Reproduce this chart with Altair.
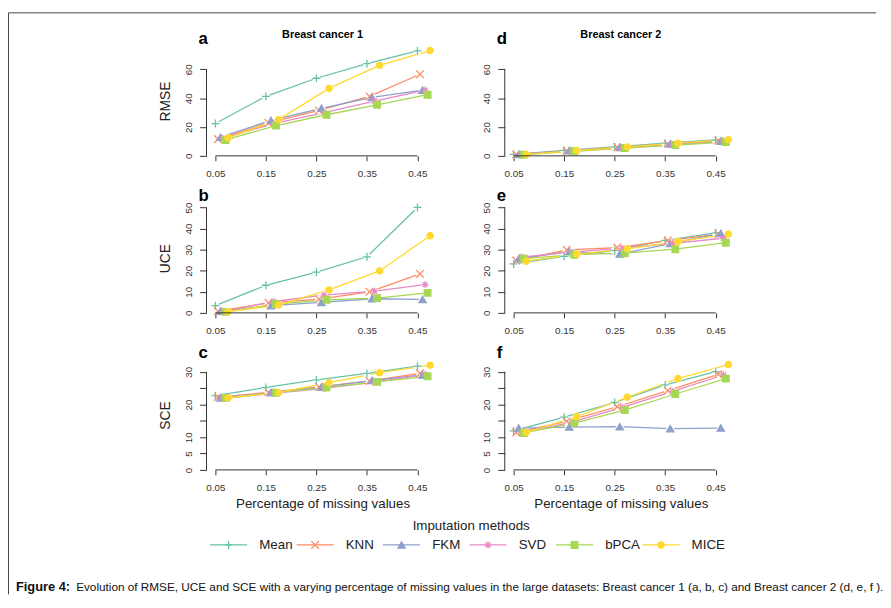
import altair as alt
import pandas as pd

# ---------------- data ----------------
pct = [0.05, 0.15, 0.25, 0.35, 0.45]
methods = ["Mean", "KNN", "FKM", "SVD", "bPCA", "MICE"]
offsets = [0.0, 0.005, 0.01, 0.015, 0.02, 0.025]   # horizontal dodge per method

rmse_bc1 = {
    "Mean": [22.4, 41.3, 53.8, 63.9, 72.8],
    "KNN":  [11.6, 22.8, 31.5, 41.2, 56.6],
    "FKM":  [13.0, 24.6, 33.0, 40.6, 45.6],
    "SVD":  [12.1, 22.4, 30.0, 38.0, 45.6],
    "bPCA": [11.0, 21.0, 28.5, 35.4, 42.4],
    "MICE": [12.5, 25.1, 46.8, 62.7, 73.0],
}
rmse_bc2 = {
    "Mean": [1.0, 3.8, 6.2, 8.8, 11.0],
    "KNN":  [1.0, 3.5, 6.0, 8.3, 10.5],
    "FKM":  [1.0, 3.5, 5.8, 8.2, 10.2],
    "SVD":  [0.9, 3.3, 5.5, 7.8, 10.3],
    "bPCA": [0.8, 3.2, 5.4, 7.5, 9.6],
    "MICE": [1.0, 3.7, 6.2, 8.8, 11.2],
}
uce_bc1 = {
    "Mean": [3.4, 13.1, 19.3, 26.6, 50.0],
    "KNN":  [0.8, 4.8, 6.5, 10.0, 18.5],
    "FKM":  [0.8, 3.4, 5.0, 6.7, 6.4],
    "SVD":  [0.6, 5.4, 8.4, 10.3, 13.4],
    "bPCA": [0.5, 4.2, 6.2, 7.0, 9.5],
    "MICE": [0.6, 3.7, 10.9, 19.9, 36.6],
}
uce_bc2 = {
    "Mean": [23.2, 26.8, 29.6, 34.4, 38.0],
    "KNN":  [24.8, 29.9, 31.0, 34.3, 37.4],
    "FKM":  [25.7, 29.1, 27.9, 32.9, 37.7],
    "SVD":  [26.5, 28.8, 30.7, 33.0, 35.4],
    "bPCA": [25.7, 27.6, 28.3, 30.2, 33.3],
    "MICE": [24.5, 27.9, 30.4, 33.8, 37.4],
}
sce_bc1 = {
    "Mean": [22.7, 25.2, 27.5, 29.5, 31.7],
    "KNN":  [22.2, 23.7, 25.4, 27.2, 29.5],
    "FKM":  [22.0, 23.6, 25.3, 27.3, 29.0],
    "SVD":  [21.9, 23.4, 24.9, 26.8, 29.2],
    "bPCA": [22.0, 23.6, 25.2, 26.9, 28.6],
    "MICE": [22.0, 23.6, 26.7, 29.7, 32.0],
}
sce_bc2 = {
    "Mean": [11.9, 16.1, 20.6, 26.0, 30.0],
    "KNN":  [11.4, 14.9, 19.3, 24.2, 29.2],
    "FKM":  [12.8, 13.1, 13.2, 12.6, 12.8],
    "SVD":  [11.3, 14.6, 19.1, 24.0, 29.0],
    "bPCA": [11.3, 14.3, 18.3, 23.2, 27.9],
    "MICE": [11.5, 16.3, 22.2, 27.9, 32.2],
}

rmse_ticks = [0, 20, 40, 60]
uce_ticks = [0, 10, 20, 30, 40, 50]
sce_ticks = [0, 5, 10, 15, 20, 25, 30]

# ---------------- styles ----------------
colors = ["#66C2A5", "#FC8D62", "#8DA0CB", "#E78AC3", "#A6D854", "#FFD92F"]
shapes = [
    "M-1,0L1,0M0,-1L0,1",
    "M-1,-1L1,1M-1,1L1,-1",
    "triangle-up",
    "M-1,0L1,0M0,-1L0,1M-0.72,-0.72L0.72,0.72M-0.72,0.72L0.72,-0.72",
    "square",
    "circle",
]
sizes = [64, 40, 49, 64, 30, 30]
FONT = "Liberation Sans"
AX = "#333333"
W, H = 235, 111
XDOM = [0.0324, 0.4918]

color_scale = alt.Scale(domain=methods, range=colors)
shape_scale = alt.Scale(domain=methods, range=shapes)
size_scale = alt.Scale(domain=methods, range=sizes)


def to_frame(d):
    rows = []
    for i, m in enumerate(methods):
        for p, v in zip(pct, d[m]):
            rows.append({"method": m, "order": i, "pct": p,
                         "x": p + offsets[i], "value": v})
    return pd.DataFrame(rows)


def panel(data, ydom, yticks, letter, ytitle=None, coltitle=None,
          xtitle=None, frame=False):
    df = to_frame(data)
    xaxis = dict(values=pct, format=".2f", domain=False, grid=False,
                 tickSize=5, tickColor=AX, labelPadding=8, labelFontSize=10,
                 labelColor=AX, labelFont=FONT, labelOverlap=False,
                 title=None)
    if xtitle:
        xaxis.update(title=xtitle, titleFont=FONT, titleFontSize=13.5,
                     titleFontWeight="normal", titleColor="#222222",
                     titleY=34, titleBaseline="middle")
    yaxis = dict(values=yticks, domain=False, grid=False, tickSize=7,
                 tickColor=AX, labelAngle=270, labelAlign="center",
                 labelBaseline="bottom", labelPadding=6, labelFontSize=10,
                 labelColor=AX, labelFont=FONT, labelOverlap=False,
                 title=None)
    if yticks == sce_ticks:
        yaxis["labelExpr"] = "(datum.value == 15 || datum.value == 25) ? '' : datum.label"
    if ytitle:
        yaxis.update(title=ytitle, titleFont=FONT, titleFontSize=14,
                     titleFontWeight="normal", titleColor="#222222",
                     titleAngle=270, titleX=-41, titleY=H / 2,
                     titleBaseline="middle", titleAlign="center")

    xa = alt.Axis(**xaxis)
    ya = alt.Axis(**yaxis)
    xs = alt.Scale(domain=XDOM, nice=False, zero=False)
    ys = alt.Scale(domain=ydom, nice=False, zero=False)
    x = alt.X("x:Q", scale=xs, axis=xa)
    y = alt.Y("value:Q", scale=ys, axis=ya)
    col = alt.Color("method:N", scale=color_scale, legend=None)

    base = alt.Chart(df)
    lines = base.mark_line(strokeWidth=1.3).encode(
        x=x, y=y, color=col, detail="method:N", order="pct:Q")
    # white halo around each point: the line gaps of a type="b" plot
    halos = base.mark_point(filled=True, opacity=1, color="#ffffff",
                            shape="circle", size=60).encode(x=x, y=y)
    pts = base.mark_point(filled=False, opacity=1, strokeWidth=1.3).encode(
        x=x, y=y, color=col,
        fill=alt.Fill("method:N", scale=color_scale, legend=None),
        shape=alt.Shape("method:N", scale=shape_scale, legend=None),
        size=alt.Size("method:N", scale=size_scale, legend=None))

    axdf = pd.DataFrame({"value": [yticks[0]], "value2": [yticks[-1]],
                         "x": [pct[0]], "x2": [pct[-1]]})
    yline = alt.Chart(axdf).mark_rule(color=AX, strokeWidth=1).encode(
        x=alt.value(0), y=y, y2="value2:Q")
    xline = alt.Chart(axdf).mark_rule(color=AX, strokeWidth=1).encode(
        y=alt.value(H), x=x, x2="x2:Q")

    lab = alt.Chart(pd.DataFrame({"t": [letter]})).mark_text(
        font=FONT, fontSize=17, fontWeight="bold", align="left",
        baseline="alphabetic", color="#000000").encode(
        text="t:N", x=alt.value(-8), y=alt.value(-2.5))

    layers = [lines, halos, pts, yline, xline, lab]
    if coltitle:
        ct = alt.Chart(pd.DataFrame({"t": [coltitle]})).mark_text(
            font=FONT, fontSize=11, fontWeight="bold", align="center",
            baseline="middle", color="#000000").encode(
            text="t:N", x=alt.value(W / 2), y=alt.value(-11))
        layers.append(ct)
    if frame:
        one = pd.DataFrame({"k": [0]})
        fv = alt.Chart(one).mark_rule(color="#444444", strokeWidth=1).encode(
            x=alt.value(-200.5), y=alt.value(-33.8), y2=alt.value(555))
        fh = alt.Chart(one).mark_rule(color="#444444", strokeWidth=1).encode(
            y=alt.value(-33.8), x=alt.value(-200.5), x2=alt.value(678))
        layers += [fv, fh]
    return alt.layer(*layers).properties(width=W, height=H)


pa = panel(rmse_bc1, [0, 76], rmse_ticks, "a", ytitle="RMSE",
           coltitle="Breast cancer 1", frame=True)
pdd = panel(rmse_bc2, [0, 76], rmse_ticks, "d", coltitle="Breast cancer 2")
pb = panel(uce_bc1, [0, 52], uce_ticks, "b", ytitle="UCE")
pe = panel(uce_bc2, [0, 52], uce_ticks, "e")
pc = panel(sce_bc1, [0, 33.5], sce_ticks, "c", ytitle="SCE",
           xtitle="Percentage of missing values")
pf = panel(sce_bc2, [0, 33.5], sce_ticks, "f",
           xtitle="Percentage of missing values")

# ---------------- legend + caption ----------------
leg_df = pd.DataFrame({"method": methods, "order": list(range(len(methods)))})
lx = alt.X("order:Q", scale=alt.Scale(domain=[0, 5], range=[22.4, 460.2]),
           axis=None)
leg_y = 28
leg_base = alt.Chart(leg_df)
leg_lines = leg_base.mark_rule(strokeWidth=1.3, xOffset=-18.8,
                               x2Offset=18.8).encode(
    x=lx, x2="order:Q", y=alt.value(leg_y),
    color=alt.Color("method:N", scale=color_scale, legend=None))
leg_pts = leg_base.mark_point(filled=False, opacity=1, strokeWidth=1.3).encode(
    x=lx, y=alt.value(leg_y),
    color=alt.Color("method:N", scale=color_scale, legend=None),
    fill=alt.Fill("method:N", scale=color_scale, legend=None),
    shape=alt.Shape("method:N", scale=shape_scale, legend=None),
    size=alt.Size("method:N", scale=size_scale, legend=None))
leg_txt = leg_base.mark_text(font=FONT, fontSize=13.5, align="left",
                             baseline="middle", dx=31, color="#222222").encode(
    x=lx, y=alt.value(leg_y), text="method:N")
leg_title = alt.Chart(pd.DataFrame({"t": ["Imputation methods"]})).mark_text(
    font=FONT, fontSize=13.5, align="center", baseline="middle",
    color="#222222").encode(text="t:N", x=alt.value(268), y=alt.value(9.3))
cap1 = alt.Chart(pd.DataFrame({"t": ["Figure 4:"]})).mark_text(
    font=FONT, fontSize=13, fontWeight="bold", align="left",
    baseline="middle", color="#111111").encode(
    text="t:N", x=alt.value(-193), y=alt.value(71))
cap2 = alt.Chart(pd.DataFrame({"t": [
    "Evolution of RMSE, UCE and SCE with a varying percentage of missing values "
    "in the large datasets: Breast cancer 1 (a, b, c) and Breast cancer 2 (d, e, f )."]})
).mark_text(font=FONT, fontSize=11.9, align="left", baseline="middle",
            color="#111111").encode(
    text="t:N", x=alt.value(-132), y=alt.value(71))

legend = alt.layer(leg_lines, leg_pts, leg_txt, leg_title, cap1, cap2).properties(
    width=W, height=40)

chart = alt.concat(pa, pdd, pb, pe, pc, pf, legend, columns=2,
                   spacing={"row": 48, "column": 67}, bounds="flush").properties(
    padding=0, background="#ffffff"
).configure_view(strokeWidth=0)

chart.save("out.html", embed_options={"renderer": "svg", "actions": False})
